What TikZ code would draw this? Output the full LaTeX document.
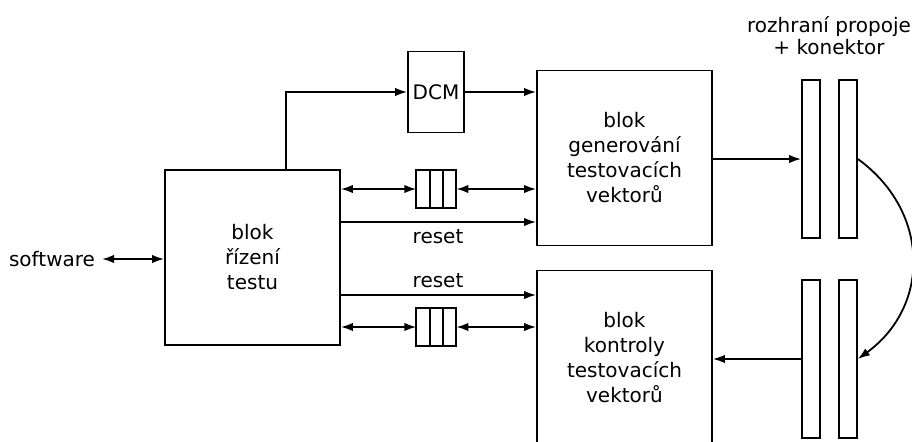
\documentclass[tikz,border=0pt]{standalone}
\usepackage{fontspec}
\setmainfont{DejaVu Sans}
\usetikzlibrary{arrows.meta, positioning}

\tikzset{
  blok/.style={draw, line width=0.9pt, minimum width=87.5pt, minimum height=87.5pt,
    inner sep=0pt, align=center},
  dcmbox/.style={draw, line width=0.9pt, minimum width=28pt, minimum height=40.5pt, inner sep=0pt},
  cell/.style={draw, line width=0.9pt, minimum width=6.67pt, minimum height=19pt,
    inner sep=0pt, outer sep=0pt},
  konn/.style={draw, line width=0.9pt, minimum width=9pt, minimum height=79pt, inner sep=0pt},
  arr/.style={line width=0.9pt, -{Latex[length=6pt,width=4.2pt]}},
  darr/.style={line width=0.9pt, {Latex[length=6pt,width=4.2pt]}-{Latex[length=6pt,width=4.2pt]}}
}

\begin{document}
\begin{tikzpicture}[x=0.5pt, y=-0.5pt, font=\fontsize{10}{12.5}\selectfont]
\clip (0,0) rectangle (912,441);

% bloky
\node[blok] (ctrl) at (252.5,257.5) {blok\\řízení\\testu};
\node[blok] (gen) at (624.5,158) {blok\\generování\\testovacích\\vektorů};
\node[blok] (chk) at (624.5,358) {blok\\kontroly\\testovacích\\vektorů};
\node[dcmbox] (dcm) at (436,92) {DCM};
\node (sw) at (52,259) {software};

% fronty
\node[cell] (fA1) at (423,189) {};
\node[cell, right=0pt of fA1] (fA2) {};
\node[cell, right=0pt of fA2] (fA3) {};
\node[cell] (fB1) at (423,327) {};
\node[cell, right=0pt of fB1] (fB2) {};
\node[cell, right=0pt of fB2] (fB3) {};

% konektory
\node[konn] (kA1) at (811,159) {};
\node[konn] (kA2) at (848,159) {};
\node[konn] (kB1) at (811,359) {};
\node[konn] (kB2) at (848,359) {};
\node[align=center, font=\fontsize{10}{11}\selectfont] (rozh) at (829,36) {rozhraní propoje\\+ konektor};

\coordinate (rst1) at (340,222);
\coordinate (rst2) at (340,295);

% spoje
\draw[darr] (sw.east) -- (sw.east -| ctrl.west);
\draw[arr] ([xshift=16.75pt]ctrl.north) |- (dcm.west);
\draw[arr] (dcm.east) -- (dcm.east -| gen.west);
\draw[darr] (fA1.west -| ctrl.east) -- (fA1.west);
\draw[darr] (fA3.east) -- (fA3.east -| gen.west);
\draw[arr] (rst1) -- (rst1 -| gen.west) node[midway, below] {reset};
\draw[arr] (rst2) -- (rst2 -| chk.west) node[midway, above] {reset};
\draw[darr] (fB1.west -| ctrl.east) -- (fB1.west);
\draw[darr] (fB3.east) -- (fB3.east -| chk.west);
\draw[arr] (kA1.west -| gen.east) -- (kA1.west);
\draw[arr] (kB1.west) -- (kB1.west -| chk.east);
\draw[arr] (kA2.east) to[out=-36, in=36, looseness=1.15] (kB2.east);
\end{tikzpicture}
\end{document}
